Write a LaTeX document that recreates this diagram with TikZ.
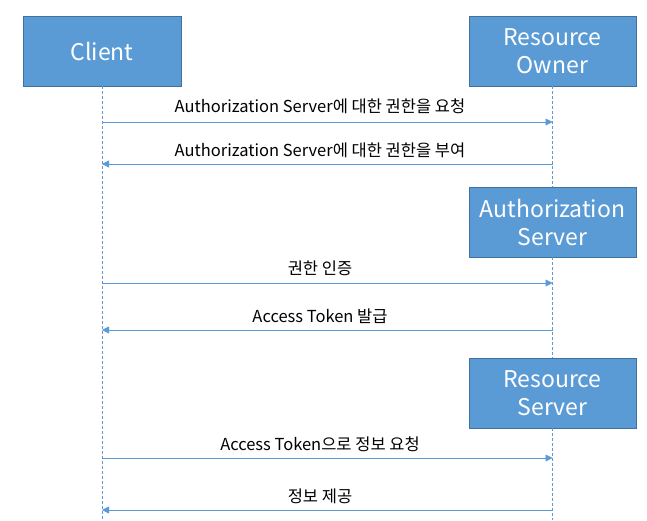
\documentclass[tikz,border=0pt]{standalone}
\usepackage{fontspec}
\setmainfont{Noto Sans CJK KR}
\usetikzlibrary{arrows.meta}
\definecolor{boxfill}{HTML}{5B9BD5}
\definecolor{boxedge}{HTML}{41719C}
\definecolor{linecol}{HTML}{5B9BD5}
\begin{document}
\begin{tikzpicture}[x=1pt,y=-1pt,
  actor/.style={draw=boxedge,fill=boxfill,line width=0.8pt,text=white,
    minimum height=70pt,align=center,font=\fontsize{23}{28}\selectfont,inner sep=0pt},
  life/.style={draw=linecol,line width=0.7pt,dash pattern=on 3pt off 2pt},
  msg/.style={draw=linecol,line width=0.8pt,-{Triangle[width=7pt,length=7pt]}},
  lbl/.style={font=\fontsize{16.5}{18}\selectfont,text=black,inner sep=0pt}]
\useasboundingbox (0,0) rectangle (647,520);
\node[actor,minimum width=158pt] (client) at (102,51) {Client};
\node[actor,minimum width=167pt] (ro) at (552.5,51) {Resource\\Owner};
\node[actor,minimum width=167pt] (as) at (552.5,222) {Authorization\\Server};
\node[actor,minimum width=167pt] (rs) at (552.5,393) {Resource\\Server};
\coordinate (cb) at (102,520);
\coordinate (rb) at (552.5,520);
\draw[life] (client.south) -- (cb);
\draw[life] (ro.south) -- (as.north);
\draw[life] (as.south) -- (rs.north);
\draw[life] (rs.south) -- (rb);
% messages
\foreach \n/\y in {1/122,2/164,3/283,4/330,5/458,6/510}{
  \coordinate (l\n) at (102,\y);
  \coordinate (r\n) at (552.5,\y);
}
\draw[msg] (l1) -- (r1);
\draw[msg] (r2) -- (l2);
\draw[msg] (l3) -- (r3);
\draw[msg] (r4) -- (l4);
\draw[msg] (l5) -- (r5);
\draw[msg] (r6) -- (l6);
\node[lbl] (t1) at (320,106) {Authorization Server에 대한 권한을 요청};
\node[lbl] (t2) at (320,150) {Authorization Server에 대한 권한을 부여};
\node[lbl] (t3) at (320,268) {권한 인증};
\node[lbl] (t4) at (320,316) {Access Token 발급};
\node[lbl] (t5) at (320,444) {Access Token으로 정보 요청};
\node[lbl] (t6) at (320,496) {정보 제공};
\end{tikzpicture}
\end{document}
